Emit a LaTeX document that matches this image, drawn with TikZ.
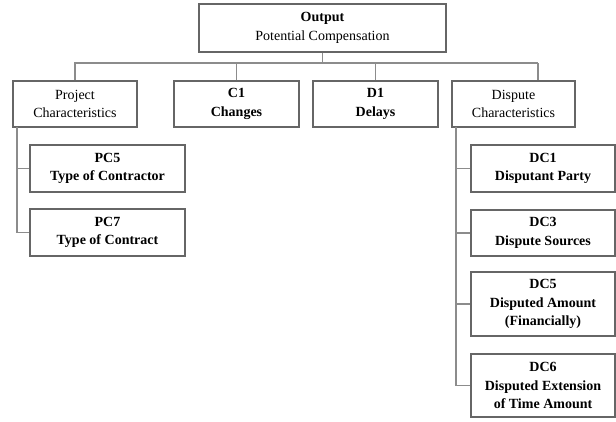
\documentclass[tikz,border=0pt]{standalone}
\usepackage{fontspec}
\setmainfont{Liberation Serif}
\usepackage{tikz}
\usetikzlibrary{calc}
\tikzset{
box/.style 2 args={draw=gray!80!black,line width=0.9pt,inner sep=0pt,align=center,
  minimum width=#1*0.75pt,minimum height=#2*0.75pt},
lijn/.style={draw=gray!90,line width=0.9pt}}

\begin{document}
\begin{tikzpicture}[x=0.75pt,y=-0.75pt,font=\fontsize{10.5}{14}\selectfont]

\useasboundingbox (0,0) rectangle (616,421);

\node[box={247}{48}] (out) at (322.5,28) {\textbf{Output}\\Potential Compensation};

\node[box={124}{46}] (proj) at (75,104) {Project\\Characteristics};
\node[box={125}{46}] (c1) at (236.5,104) {\textbf{C1}\\\textbf{Changes}};
\node[box={125}{46}] (d1) at (375.5,104) {\textbf{D1}\\\textbf{Delays}};
\node[box={123}{46}] (disp) at (513.5,104) {Dispute\\Characteristics};

\node[box={155}{47}] (pc5) at (107.5,168.5) {\textbf{PC5}\\\textbf{Type of Contractor}};
\node[box={155}{47}] (pc7) at (107.5,232.5) {\textbf{PC7}\\\textbf{Type of Contract}};

\node[box={144}{47}] (dc1) at (543,168.5) {\textbf{DC1}\\\textbf{Disputant Party}};
\node[box={144}{46}] (dc3) at (543,233) {\textbf{DC3}\\\textbf{Dispute Sources}};
\node[box={144}{64}] (dc5) at (543,304) {\textbf{DC5}\\\textbf{Disputed Amount}\\\textbf{(Financially)}};
\node[box={144}{63}] (dc6) at (543,385.5) {\textbf{DC6}\\\textbf{Disputed Extension}\\\textbf{of Time Amount}};

\coordinate (barL) at (74,63);
\coordinate (barR) at (538,63);
\coordinate (pctop) at (17,127);
\coordinate (dctop) at (456,127);

\draw[lijn] (barL) -- (barR);
\draw[lijn] (out.south) -- (out.south |- barL);
\draw[lijn] (proj.north) -- (proj.north |- barL);
\draw[lijn] (c1.north) -- (c1.north |- barL);
\draw[lijn] (d1.north) -- (d1.north |- barL);
\draw[lijn] (barR) -- (barR |- disp.north);

\draw[lijn] (pctop) -- (pctop |- pc7.west) -- (pc7.west);
\draw[lijn] (pctop |- pc5.west) -- (pc5.west);

\draw[lijn] (dctop) -- (dctop |- dc6.west) -- (dc6.west);
\draw[lijn] (dctop |- dc1.west) -- (dc1.west);
\draw[lijn] (dctop |- dc3.west) -- (dc3.west);
\draw[lijn] (dctop |- dc5.west) -- (dc5.west);

\end{tikzpicture}
\end{document}
